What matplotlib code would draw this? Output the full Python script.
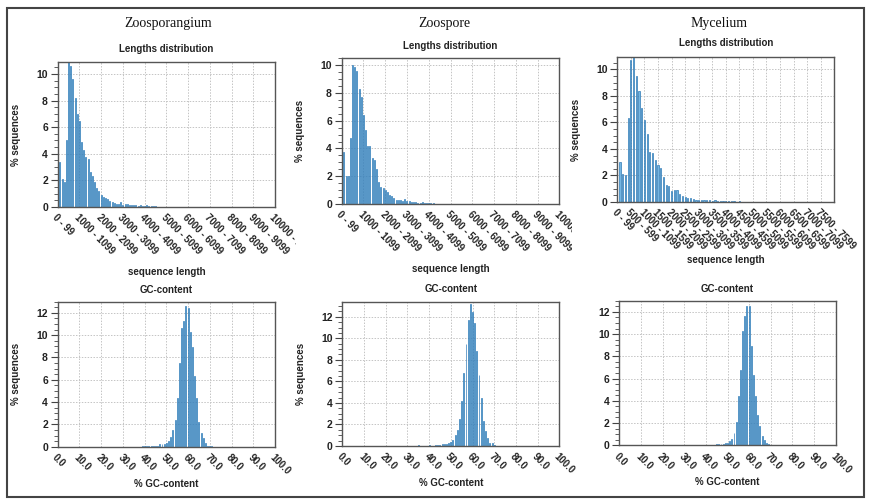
import matplotlib
matplotlib.use("Agg")
import matplotlib.pyplot as plt
from matplotlib.ticker import MultipleLocator, FixedLocator
from matplotlib.transforms import Bbox, TransformedBbox
from matplotlib.patches import Rectangle

plt.rcParams['font.family'] = ['Liberation Sans', 'DejaVu Sans']

# ---------------- data ----------------
samples = ["Zoosporangium", "Zoospore", "Mycelium"]

# % sequences per 100-bp length bin (bin k = k*100 .. k*100+99)
zoosporangium_len = [3.4, 2.1, 1.85, 5.0, 11.0, 10.6, 9.6, 8.2, 7.0, 6.45, 4.9, 4.25, 3.75, 3.6,
                     2.6, 2.3, 1.9, 1.4, 1.2, 0.9, 0.75, 0.7, 0.6, 0.42, 0.35, 0.33, 0.22, 0.25,
                     0.38, 0.18, 0.22, 0.25, 0.15, 0.15, 0.18, 0.12, 0.1, 0.12, 0.08, 0.1, 0.12,
                     0.08, 0.06, 0.05, 0.04, 0.03, 0.03, 0.02, 0.02, 0.02]
zoospore_len = [3.73, 2.05, 2.0, 4.75, 10.05, 9.85, 9.6, 8.3, 7.7, 6.4, 5.3, 4.15, 4.15, 3.35,
                3.2, 2.55, 1.6, 1.25, 1.12, 1.0, 0.85, 0.65, 0.6, 0.4, 0.32, 0.3, 0.28, 0.25,
                0.38, 0.25, 0.2, 0.15, 0.15, 0.12, 0.1, 0.1, 0.12, 0.1, 0.08, 0.06, 0.05, 0.04,
                0.03, 0.03, 0.02, 0.02]
mycelium_len = [3.0, 2.1, 2.05, 6.3, 10.7, 11.0, 9.5, 8.35, 7.1, 6.15, 5.15, 3.75, 3.7, 3.2,
                2.75, 2.55, 1.9, 1.28, 1.2, 0.82, 0.88, 0.9, 0.63, 0.48, 0.4, 0.3, 0.28, 0.22,
                0.12, 0.15, 0.12, 0.15, 0.18, 0.15, 0.1, 0.12, 0.1, 0.08, 0.1, 0.06, 0.05, 0.06,
                0.04, 0.03, 0.05, 0.02]

# % sequences per 1% GC bin
gc_pct = list(range(35, 72))
zoosporangium_gc = [0.0, 0.0, 0.0, 0.0, 0.02, 0.05, 0.03, 0.04, 0.06, 0.05, 0.08, 0.1, 0.25,
                    0.2, 0.2, 0.3, 0.5, 0.85, 1.5, 2.4, 4.4, 7.5, 10.6, 11.25, 12.6, 12.4, 10.3,
                    8.9, 6.35, 4.4, 2.2, 1.2, 0.75, 0.3, 0.1, 0.05, 0.02]
zoospore_gc = [0.05, 0.03, 0.03, 0.04, 0.04, 0.05, 0.04, 0.04, 0.05, 0.06, 0.1, 0.15, 0.15,
               0.2, 0.25, 0.4, 0.55, 1.0, 1.5, 2.5, 4.2, 6.8, 9.45, 11.7, 13.2, 12.4, 11.4,
               8.8, 6.6, 4.45, 2.35, 1.35, 0.7, 0.3, 0.25, 0.1, 0.03]
mycelium_gc = [0.01, 0.01, 0.01, 0.01, 0.02, 0.03, 0.03, 0.04, 0.05, 0.06, 0.08, 0.1, 0.1,
               0.15, 0.2, 0.25, 0.4, 0.6, 1.15, 2.05, 4.45, 6.8, 10.3, 11.65, 12.5, 12.5, 8.95,
               6.35, 4.4, 2.7, 1.7, 0.85, 0.5, 0.25, 0.1, 0.03, 0.01]

len_tick_bins = [list(range(0, 101, 10)), list(range(0, 101, 10)), list(range(0, 76, 5))]
len_tick_labels = [[f"{k*100} - {k*100+99}" for k in t] for t in len_tick_bins]
gc_ticks = list(range(0, 101, 10))
gc_tick_labels = [f"{v:.1f}" for v in gc_ticks]

# ---------------- layout ----------------
W, H = 873, 501
fig = plt.figure(figsize=(W / 100, H / 100), dpi=100)

def px_axes(x0, y0, x1, y1):
    return fig.add_axes([x0 / W, 1 - y1 / H, (x1 - x0) / W, (y1 - y0) / H])

top_boxes = [(57.7, 62, 275, 207), (341.7, 58.3, 559.3, 204), (617.3, 57.3, 834.3, 202)]
bot_boxes = [(57.7, 301.7, 275, 446.7), (342.3, 301.7, 559.3, 446), (619.3, 300.7, 835.7, 445.3)]
len_xlims = [(0, 100), (0, 100), (0, 80)]
len_ylims = [10.9, 10.5, 10.9]
gc_ylims = [13.0, 13.4, 13.0]
clip_right = [296, 572, 873]
seq_label_y = [-0.448, -0.446, -0.40]
len_title_y = [1.09, 1.087, 1.097]
gc_title_y = [1.081, 1.088, 1.081]
title_x = [168, 444, 719]

len_data = [zoosporangium_len, zoospore_len, mycelium_len]
gc_data = [zoosporangium_gc, zoospore_gc, mycelium_gc]

FACE = '#74b6e2'
EDGE = '#1f6fb0'
TXT = '#222222'
FS = 7


def style_axes(ax, ylim_top):
    ax.set_ylim(0, ylim_top)
    ax.yaxis.set_major_locator(MultipleLocator(2))
    ax.yaxis.set_minor_locator(MultipleLocator(0.5))
    for s in ax.spines.values():
        s.set_color('#555555')
        s.set_linewidth(1.0)
    ax.grid(True, which='major', color='#c4c4c4', linestyle=(0, (1.5, 1.5)), linewidth=0.7)
    ax.set_axisbelow(True)
    ax.tick_params(axis='y', which='major', direction='out', length=5, width=0.8,
                   color='#444444', labelsize=FS + 0.5, pad=2, labelcolor=TXT)
    ax.tick_params(axis='y', which='minor', direction='out', length=3, width=0.6, color='#444444')
    ax.tick_params(axis='x', which='both', length=0, labelsize=FS, pad=4, labelcolor=TXT)
    for lab in ax.get_yticklabels():
        lab.set_fontweight('bold')


def panel_title(ax, text, y):
    ax.text(0.5, y, text, transform=ax.transAxes, ha='center', va='center',
            fontsize=FS, fontweight='bold', color=TXT)


for i in range(3):
    # ----- lengths distribution -----
    ax = px_axes(*top_boxes[i])
    vals = len_data[i]
    pos = [k + 1 for k in range(len(vals))]
    ax.bar(pos, vals, width=0.45, color=FACE, edgecolor=EDGE, linewidth=0.45)
    ax.set_xlim(*len_xlims[i])
    ax.xaxis.set_major_locator(FixedLocator(len_tick_bins[i]))
    ax.set_xticklabels(len_tick_labels[i], rotation=-45, ha='left', va='top',
                       rotation_mode='anchor', fontweight='bold')
    style_axes(ax, len_ylims[i])
    clip = TransformedBbox(Bbox([[0, 0], [clip_right[i] / W, 1]]), fig.transFigure)
    for lab in ax.get_xticklabels():
        lab.set_clip_box(clip)
        lab.set_clip_on(True)
    panel_title(ax, "Lengths distribution", len_title_y[i])
    ax.set_ylabel("% sequences", fontsize=FS, fontweight='bold', color=TXT)
    ax.yaxis.set_label_coords(-0.168, 0.5)
    ax.set_xlabel("sequence length", fontsize=FS, fontweight='bold', color=TXT, va='center')
    ax.xaxis.set_label_coords(0.5, seq_label_y[i])

    # ----- GC content -----
    ax2 = px_axes(*bot_boxes[i])
    ax2.bar(gc_pct, gc_data[i], width=0.45, color=FACE, edgecolor=EDGE, linewidth=0.45)
    ax2.set_xlim(0, 100)
    ax2.xaxis.set_major_locator(FixedLocator(gc_ticks))
    ax2.set_xticklabels(gc_tick_labels, rotation=-45, ha='left', va='top',
                        rotation_mode='anchor', fontweight='bold')
    style_axes(ax2, gc_ylims[i])
    panel_title(ax2, "GC-content", gc_title_y[i])
    if i < 2:
        ax2.set_ylabel("% sequences", fontsize=FS, fontweight='bold', color=TXT)
        ax2.yaxis.set_label_coords(-0.168, 0.5)
    ax2.set_xlabel("% GC-content", fontsize=FS, fontweight='bold', color=TXT, va='center')
    ax2.xaxis.set_label_coords(0.5, -0.257)

    fig.text(title_x[i] / W, 1 - 23.3 / H, samples[i], ha='center', va='center',
             fontsize=10, family=['Liberation Serif', 'DejaVu Serif'], color='#111111')

# outer frame
fig.patches.append(Rectangle((7 / W, 1 - 497 / H), 857 / W, 489 / H, transform=fig.transFigure,
                             fill=False, edgecolor='#444444', linewidth=1.5))

fig.savefig("out.png", dpi=100)
